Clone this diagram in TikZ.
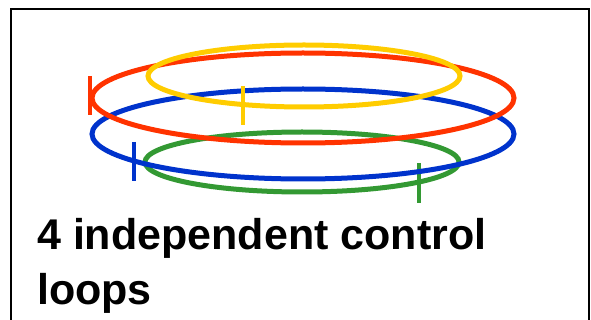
\documentclass[tikz,border=0pt]{standalone}
\usepackage{fontspec}
\setmainfont{Liberation Sans}
\definecolor{loopred}{HTML}{FF3300}
\definecolor{loopyellow}{HTML}{FFCC00}
\definecolor{loopblue}{HTML}{0033CC}
\definecolor{loopgreen}{HTML}{339933}
\tikzset{ring/.style={line width=5pt}, looptick/.style={line width=4.5pt}}

\begin{document}
\begin{tikzpicture}[x=1pt, y=-1pt]
\useasboundingbox (0,0) rectangle (591,320);
\draw[line width=1.8pt] (11,325) -- (11,9) -- (589,9) -- (589,325);
\coordinate (G) at (302,162); \coordinate (B) at (303,134); \coordinate (R) at (303,98); \coordinate (Y) at (304,76);
\draw[ring, loopgreen] (G) ellipse [x radius=157, y radius=30]; \draw[looptick, loopgreen] (419,163) -- (419,203);
\draw[ring, loopblue] (B) ellipse [x radius=211, y radius=45]; \draw[looptick, loopblue] (134,142) -- (134,181);
\draw[ring, loopred] (R) ellipse [x radius=211, y radius=45]; \draw[looptick, loopred] (90,76) -- (90,115);
\draw[ring, loopyellow] (Y) ellipse [x radius=156, y radius=31]; \draw[looptick, loopyellow] (243,86) -- (243,125);
\node (caption) [anchor=north west, align=left, inner sep=0pt, font=\bfseries\fontsize{43}{55}\selectfont] at (37,218) {4 independent control\\loops};
\end{tikzpicture}
\end{document}
